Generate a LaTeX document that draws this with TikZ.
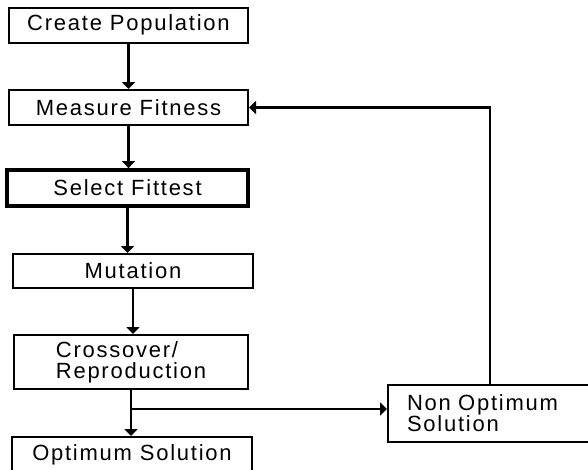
\documentclass[tikz,border=0pt]{standalone}
\usepackage{fontspec}
\setmainfont{Liberation Sans}[LetterSpace=8]
\usetikzlibrary{arrows.meta}

\begin{document}
\begin{tikzpicture}[x=1pt, y=-1pt,
    box/.style={draw, line width=2pt, inner sep=0pt, minimum height=35pt,
      font=\fontsize{22}{21}\selectfont},
    flow/.style={-{Triangle[length=7pt,width=13pt]}, line width=2.4pt}]
        \useasboundingbox (0,0) rectangle (588,469);
        % main column
        \node[box, minimum width=239pt] (create) at (128.5,25) {Create Population};
        \node[box, minimum width=239pt] (measure) at (128.5,107.5) {Measure Fitness};
        \node[box, line width=3.8pt, minimum width=241pt, minimum height=36pt] (select) at (127.5,188) {Select Fittest};
        \node[box, minimum width=240pt, minimum height=34pt] (mutation) at (133,271) {Mutation};
        \node[box, minimum width=234pt, minimum height=54pt, align=left] (crossover) at (131,362) {Crossover/\\Reproduction};
        \node[box, minimum width=240pt, minimum height=36pt] (optimum) at (132,455) {Optimum Solution};
        \node[box, minimum width=204pt, minimum height=57pt, text width=166pt, align=left] (nonopt) at (490,413.5) {Non Optimum\\Solution};
        % connectors
        \draw[flow] (create.south) -- (create.south |- measure.north);
        \draw[flow] (measure.south) -- (measure.south |- select.north);
        \draw[flow] (select.south) -- (select.south |- mutation.north);
        \draw[flow] (mutation.south) -- (mutation.south |- crossover.north);
        \draw[flow] (crossover.south) -- (crossover.south |- optimum.north);
        \coordinate (split) at (crossover.south |- 0,409);
        \draw[flow] (split) -- (split -| nonopt.west);
        \draw[flow] (nonopt.north) |- (measure.east);
\end{tikzpicture}
\end{document}
